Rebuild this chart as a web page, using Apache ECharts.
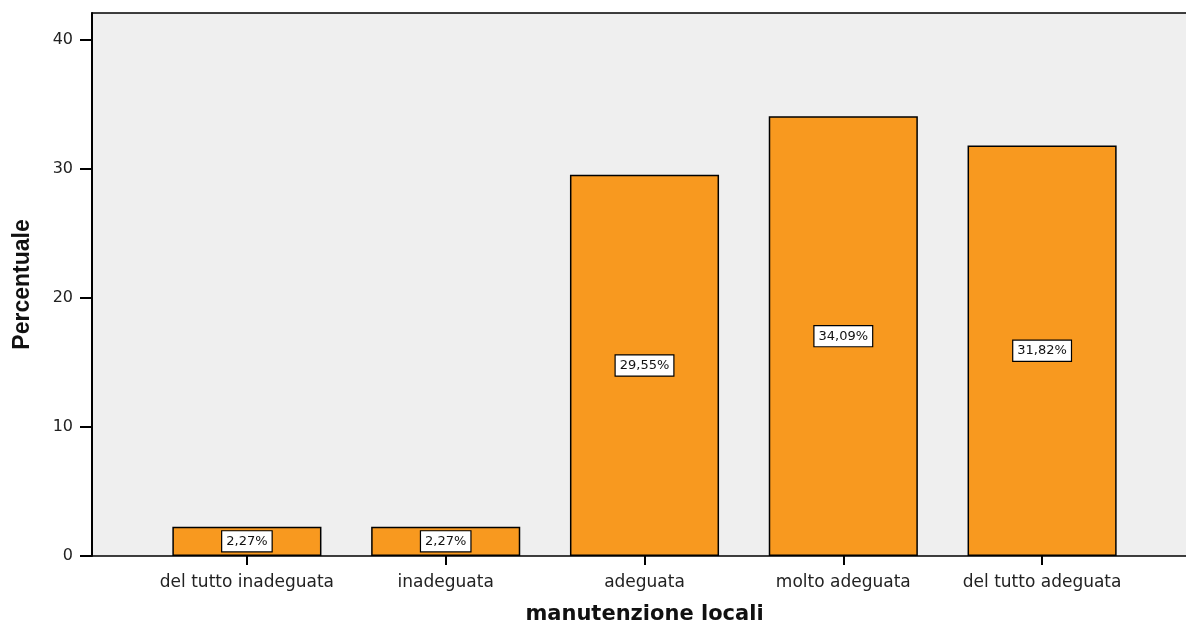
<!DOCTYPE html>
<html>
<head>
<meta charset="utf-8">
<script src="https://cdn.jsdelivr.net/npm/echarts@6/dist/echarts.min.js"></script>
<style>html,body{margin:0;padding:0;background:#fff}#c{width:1186px;height:627px}</style>
</head>
<body>
<div id="c"></div>
<script>
const categories = ['del tutto inadeguata', 'inadeguata', 'adeguata', 'molto adeguata', 'del tutto adeguata'];
const values = [2.27, 2.27, 29.55, 34.09, 31.82];
const yTicks = [0, 10, 20, 30, 40];
const xTitle = 'manutenzione locali';
const yTitle = 'Percentuale';

const chart = echarts.init(document.getElementById('c'), null, {renderer: 'canvas'});
const YMAX = 42.1;
const FONT = 'DejaVu Sans, Verdana, sans-serif';
chart.setOption({
  animation: false,
  grid: [
    {left: 92, right: -2, top: 13, bottom: 71, show: true, backgroundColor: '#efefef', borderWidth: 0,
     outerBoundsMode: 'none', containLabel: false},
    {left: 147.5, right: 44.5, top: 13, bottom: 71, outerBoundsMode: 'none', containLabel: false}
  ],
  xAxis: [
    {gridIndex: 0, type: 'value', min: 0, max: 1, position: 'bottom',
     axisLine: {show: true, lineStyle: {color: '#000', width: 1.5}},
     axisTick: {show: false}, axisLabel: {show: false}, splitLine: {show: false}},
    {gridIndex: 0, type: 'value', min: 0, max: 1, position: 'top',
     axisLine: {show: true, lineStyle: {color: '#000', width: 1.5}},
     axisTick: {show: false}, axisLabel: {show: false}, splitLine: {show: false}},
    {gridIndex: 1, type: 'category', data: categories, position: 'bottom',
     axisLine: {show: false},
     axisTick: {show: true, alignWithLabel: true, interval: 0, length: 9, lineStyle: {color: '#000', width: 2}},
     axisLabel: {interval: 0, margin: 18, fontSize: 17, color: '#222', fontFamily: FONT},
     name: xTitle, nameLocation: 'middle', nameGap: 48,
     nameTextStyle: {fontSize: 21, fontWeight: 'bold', color: '#111', fontFamily: FONT}}
  ],
  yAxis: [
    {gridIndex: 0, type: 'value', min: 0, max: YMAX, interval: 10,
     axisLine: {show: true, lineStyle: {color: '#000', width: 2}},
     axisTick: {show: true, length: 12, customValues: yTicks, lineStyle: {color: '#000', width: 2}},
     axisLabel: {margin: 19, fontSize: 16, color: '#222', customValues: yTicks, fontFamily: FONT},
     splitLine: {show: false},
     name: yTitle, nameLocation: 'middle', nameGap: 58,
     nameTextStyle: {fontSize: 23, fontWeight: 'bold', color: '#111', fontFamily: 'Liberation Sans Narrow, Arial Narrow, sans-serif'}},
    {gridIndex: 1, type: 'value', min: 0, max: YMAX, show: false}
  ],
  series: [{
    type: 'bar', xAxisIndex: 2, yAxisIndex: 1, data: values, barWidth: '75%',
    itemStyle: {color: '#f8991f', borderColor: '#000', borderWidth: 1.5},
    label: {show: true, position: 'inside', color: '#111', fontSize: 13,
      fontFamily: FONT,
      backgroundColor: '#fff', borderColor: '#000', borderWidth: 1.2, padding: [4, 4, 3, 4],
      formatter: p => p.value.toFixed(2).replace('.', ',') + '%'}
  }]
});
</script>
</body>
</html>
